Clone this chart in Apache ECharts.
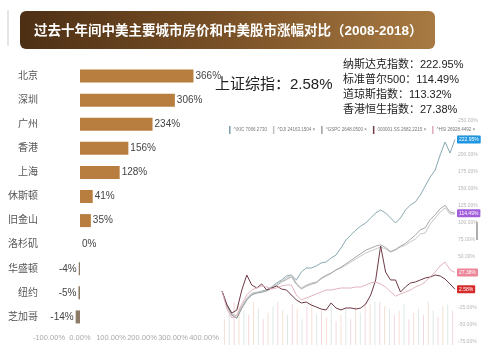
<!DOCTYPE html>
<html><head><meta charset="utf-8">
<script src="https://cdn.jsdelivr.net/npm/echarts@6/dist/echarts.min.js"></script>
<style>html,body{margin:0;padding:0;background:#fff}#c{width:485px;height:352px}</style>
</head><body><div id="c"></div>
<script>
const titleText = '过去十年间中美主要城市房价和中美股市涨幅对比（2008-2018）';
const cities = ['北京','深圳','广州','香港','上海','休斯顿','旧金山','洛杉矶','华盛顿','纽约','芝加哥'];
const cityGrowth = [366,306,234,156,128,41,35,0,-4,-5,-14];
const sseName = '上证综指';
const sseReturn = 2.58;
const indexNames = ['纳斯达克指数','标准普尔500','道琼斯指数','香港恒生指数'];
const indexReturns = [222.95,114.49,113.32,27.38];
const tickers = ['^IXIC','^DJI','^GSPC','000001.SS','^HSI'];
const lastPrices = ['7066.2730','24163.1504','2648.0500','2682.2215','26928.4492'];
const ixic = [0,-20.6,-35.3,-39.7,-25,-13.2,-5.9,-2.9,0,1.5,5.9,11.8,16.2,22.1,23.5,16.2,27.9,33.8,33.8,36.8,41.2,42.6,48.5,52.9,63.2,75,82.4,89.7,95.6,100,107.4,114.7,119.1,114.7,107.4,100,107.4,119.1,126.5,130.9,141.2,154.4,167.6,177.9,200,219.1,202.9,222.95];
const dji = [0,-20.6,-33.8,-36.8,-22.1,-10.3,-2.9,-1.5,-1.5,1.5,5.9,10.3,14.7,19.1,23.5,11.8,4.4,8.8,11.8,13.2,19.1,23.5,26.5,30.9,33.8,38.2,42.6,47.1,51.5,55.9,58.8,61.8,64.7,61.8,57.4,60.3,64.7,67.6,72.1,76.5,83.8,85.3,98.5,107.4,116.2,122.1,113.2,113.32];
const gspc = [0,-22,-36,-40,-25,-13,-5,-3,-2,0,4,8,13,17,21,10,3,7,10,12,18,22,26,31,35,40,45,50,55,60,63,66,68,64,58,61,66,70,76,82,90,93,105,112,121,126,116,114.49];
const sse = [0,-20.6,-32.4,-27.9,1.5,23.5,8.8,4.4,10.3,1.5,4.4,7.4,2.9,1.5,-5.9,-13.2,-17.6,-16.2,-20.6,-23.5,-26.5,-27.9,-17.6,-25,-27.9,-25,-25,-26.5,-25,-19.1,-5.9,16.2,66.2,27.9,16.2,16.2,-1.5,5.9,11.8,13.2,16.2,19.1,20.6,23.5,22.1,17.6,10.3,2.58];
const hsi = [0,-26.5,-39.7,-35.3,-19.1,-5.9,1.5,4.4,7.4,5.9,2.9,4.4,7.4,8.8,8.8,-5.9,-13.2,-10.3,-7.4,-4.4,-1.5,1.5,1.5,2.9,4.4,4.4,4.4,5.9,5.9,8.8,11.8,13.2,10.3,5.9,-1.5,-7.4,-4.4,-1.5,1.5,5.9,8.8,13.2,20.6,27.9,36.8,42.6,30.9,27.38];
const volume = [60,90,100,95,80,70,100,85,60,75,90,100,80,70,95,85,60,90,100,70,80,65,95,55,70,85,60,90,75,100,95,100,100,90,85,70,80,95,60,75,85,70,100,80,65,90,95,80];

const chart = echarts.init(document.getElementById('c'));
const FF = 'Arial, "Liberation Sans", "Noto Sans CJK SC", sans-serif';
const periods = ixic.map((_, i) => i);
const pct2 = v => v.toFixed(2) + '%';

function lineSeries(name, data, color, tagColor, width) {
  return {
    name, type: 'line', xAxisIndex: 1, yAxisIndex: 1, data,
    symbol: 'none', lineStyle: { color, width: width || 0.9 }, itemStyle: { color },
    z: 3, silent: true,
    endLabel: tagColor ? {
      show: true, distance: 2, fontSize: 5, color: '#fff', backgroundColor: tagColor,
      padding: [1.5, 2], borderRadius: 1, fontFamily: FF,
      formatter: p => pct2(p.value)
    } : { show: false }
  };
}

const option = {
  animation: false,
  backgroundColor: '#fff',
  textStyle: { fontFamily: FF },
  legend: {
    data: tickers, left: 224, top: 121, icon: 'rect', itemWidth: 1.5, itemHeight: 8, itemGap: 6,
    textStyle: { fontSize: 4.5, color: '#777', fontFamily: FF, padding: [0, 0, 0, -2] },
    formatter: n => n + ' ' + lastPrices[tickers.indexOf(n)] + (n === tickers[0] ? '' : ' ×'),
    selectedMode: false
  },
  grid: [
    { left: 49, width: 155, top: 64, height: 265 },
    { left: 222, right: 30, top: 121, bottom: 10 },
    { left: 222, right: 30, top: 302, bottom: 7 }
  ],
  xAxis: [
    { gridIndex: 0, type: 'value', min: -100, max: 400, interval: 100,
      axisLine: { show: false }, axisTick: { show: false }, splitLine: { show: false },
      axisLabel: { fontSize: 7.5, color: '#aaa', margin: 5, formatter: pct2 } },
    { gridIndex: 1, type: 'category', data: periods, boundaryGap: false, show: false },
    { gridIndex: 2, type: 'category', data: periods, show: false }
  ],
  yAxis: [
    { gridIndex: 0, type: 'category', data: cities, inverse: true,
      axisLine: { show: false }, axisTick: { show: false },
      axisLabel: { fontSize: 10, color: '#555', margin: 11 } },
    { gridIndex: 1, type: 'value', position: 'right', min: -75, max: 250, interval: 25,
      axisLine: { show: false }, axisTick: { show: false }, splitLine: { show: false },
      axisLabel: { fontSize: 5, color: '#b5b5b5', margin: 3, formatter: pct2 } },
    { gridIndex: 2, type: 'value', min: 0, max: 100, show: false }
  ],
  series: [
    { name: '涨幅', type: 'bar', xAxisIndex: 0, yAxisIndex: 0, barWidth: 13,
      data: cityGrowth.map(v => ({ value: v, label: { position: v < 0 ? 'left' : 'right' } })),
      itemStyle: { color: p => p.value < 0 ? '#8c7b66' : '#b87e3f' },
      label: { show: true, fontSize: 10, color: '#444', distance: 2, formatter: p => p.value + '%' }
    },
    { name: 'vol', type: 'bar', xAxisIndex: 2, yAxisIndex: 2, data: volume, barWidth: 1,
      silent: true, z: 1,
      itemStyle: { color: p => ['#f5e0d4', '#dde9e6', '#f3d8dd'][p.dataIndex % 3] } },
    lineSeries('^IXIC', ixic, '#7b9ea8', '#1f96df', 0.9),
    lineSeries('^DJI', dji, '#c0c0c0', null),
    lineSeries('^GSPC', gspc, '#9e9e9e', '#a25fdc'),
    lineSeries('000001.SS', sse, '#6e3a44', '#d52b2b', 1),
    lineSeries('^HSI', hsi, '#dcaab7', '#ec8598')
  ],
  graphic: [
    { type: 'line', shape: { x1: 8, y1: 10, x2: 8, y2: 46 }, style: { stroke: '#ccc', lineWidth: 1 } },
    { type: 'rect', shape: { x: 20, y: 11, width: 415, height: 38, r: 6 },
      style: { fill: new echarts.graphic.LinearGradient(0, 0, 1, 0, [
        { offset: 0, color: '#4d2f14' }, { offset: 0.5, color: '#7a5127' }, { offset: 1, color: '#a87a42' }]) } },
    { type: 'text', x: 34, y: 31, style: { text: titleText, fill: '#fff', font: 'bold 13.5px ' + FF, textVerticalAlign: 'middle' } },
    { type: 'text', x: 215, y: 85, style: { text: sseName + '：' + sseReturn.toFixed(2) + '%', fill: '#222', font: '15px ' + FF, textVerticalAlign: 'middle' } },
    ...indexNames.map((n, i) => ({ type: 'text', x: 343, y: 65 + i * 15,
      style: { text: n + '：' + indexReturns[i].toFixed(2) + '%', fill: '#222', font: '11px ' + FF, textVerticalAlign: 'middle' } })),
    { type: 'line', shape: { x1: 477, y1: 222, x2: 477, y2: 240 }, style: { stroke: '#777', lineWidth: 1.2 } }
  ]
};
chart.setOption(option);
</script></body></html>
